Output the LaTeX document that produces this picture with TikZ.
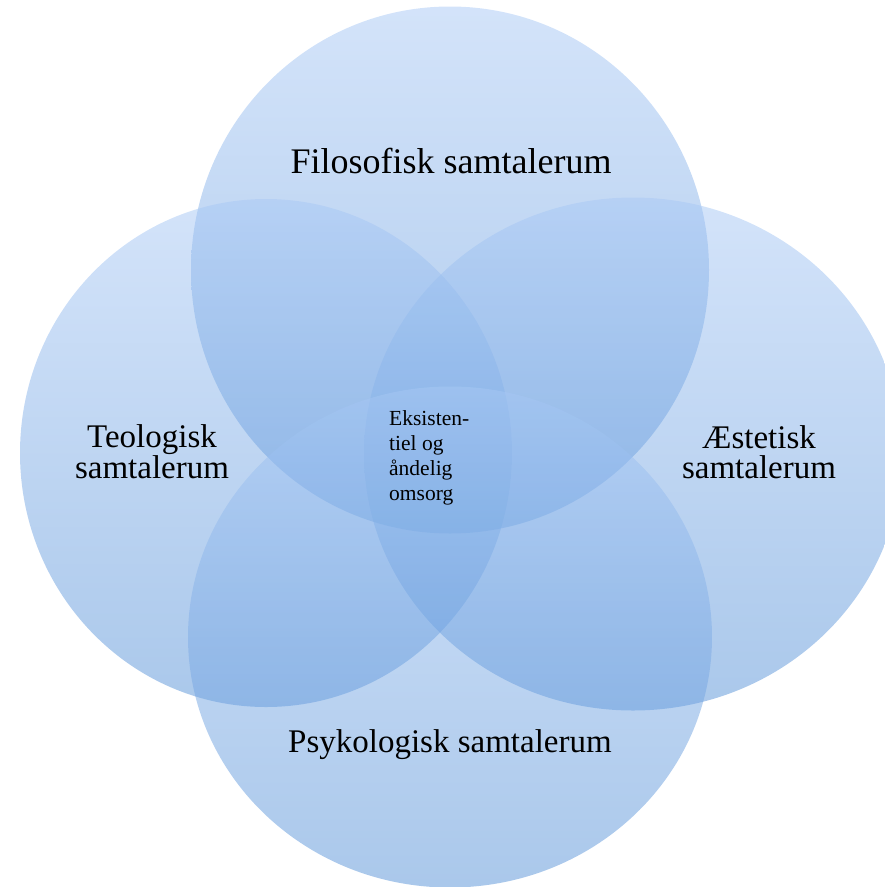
\documentclass[tikz,border=0pt]{standalone}
\usepackage{fontspec}
\setmainfont{Liberation Serif}
\usetikzlibrary{shapes.geometric}

\definecolor{ringtop}{RGB}{168,200,245}
\definecolor{ringbottom}{RGB}{85,145,215}

\tikzset{
  ring/.style={ellipse, draw=none, top color=ringtop, bottom color=ringbottom, fill opacity=.5, inner sep=0pt},
  bigtext/.style={font=\fontsize{36}{30}\selectfont, align=center, text=black},
  sidetext/.style={font=\fontsize{33}{30}\selectfont, align=center, text=black},
  coretext/.style={font=\fontsize{21.5}{25}\selectfont, align=left, text=black, inner sep=0pt}
}

\begin{document}
\begin{tikzpicture}[x=1pt, y=-1pt]
  \useasboundingbox (0,0) rectangle (885,887);
  % the four rings
  \node[ring, minimum width=518pt, minimum height=527pt] (filo) at (450,270) {};
  \node[ring, minimum width=492pt, minimum height=508pt] (teo) at (266,453) {};
  \node[ring, minimum width=538pt, minimum height=513pt] (aest) at (633,454) {};
  \node[ring, minimum width=524pt, minimum height=501pt] (psyk) at (450,637) {};
  % labels
  \node[bigtext] (filolbl) at (451,161) {Filosofisk samtalerum};
  \node[sidetext] (teolbl) at (152,452) {Teologisk\\samtalerum};
  \node[sidetext] (aestlbl) at (759,452) {Æstetisk\\samtalerum};
  \node[bigtext, font=\fontsize{33}{30}\selectfont] (psyklbl) at (450,745) {Psykologisk samtalerum};
  \node[coretext, anchor=west] (core) at (389,458) {Eksisten-\\tiel og\\åndelig\\omsorg};
\end{tikzpicture}
\end{document}
